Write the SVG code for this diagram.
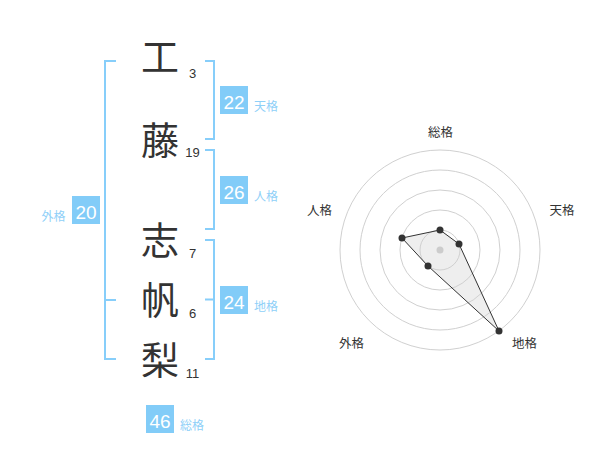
<svg xmlns="http://www.w3.org/2000/svg" width="600" height="470" viewBox="0 0 600 470">
<style>
.kanji{font-family:"Noto Sans CJK JP","Noto Sans CJK SC",sans-serif;font-size:38px;fill:#333;text-anchor:middle}
.num{font-family:"Liberation Sans",Arial,sans-serif;font-size:13px;fill:#333;text-anchor:middle}
.br{fill:none;stroke:#87cefa;stroke-width:2}
.box{fill:#82ccf8}
.boxt{font-family:"Liberation Sans",Arial,sans-serif;font-size:19px;fill:#fff;text-anchor:middle}
.lab{font-family:"Noto Sans CJK JP","Noto Sans CJK SC",sans-serif;font-size:12px;fill:#8fd0f8}
.rlab{font-family:"Noto Sans CJK JP","Noto Sans CJK SC",sans-serif;font-size:12.5px;fill:#333;text-anchor:middle}
.ring{fill:none;stroke:#d0d0d0;stroke-width:1}
.pt{fill:#333}
</style>
<g id="name">
<g id="char1"><text class="kanji" x="160" y="71">工</text><text class="num" x="192.5" y="78">3</text></g>
<g id="char2"><text class="kanji" x="160" y="154">藤</text><text class="num" x="192.5" y="157">19</text></g>
<g id="char3"><text class="kanji" x="160" y="254">志</text><text class="num" x="192.5" y="258">7</text></g>
<g id="char4"><text class="kanji" x="160" y="314">帆</text><text class="num" x="192.5" y="318">6</text></g>
<g id="char5"><text class="kanji" x="160" y="374">梨</text><text class="num" x="192.5" y="378">11</text></g>
</g>
<g id="connectors">
<path class="br" d="M116,61 H105 V359 H116 M105,300 H116"/>
<path class="br" d="M205,61 H214 V139 H205"/>
<path class="br" d="M205,150 H214 V229 H205"/>
<path class="br" d="M205,240 H214 V359 H205 M205,299.5 H214"/>
</g>
<g id="tenkaku"><rect class="box" x="220" y="86" width="28" height="28"/><text class="boxt" x="234" y="108.5">22</text><text class="lab" x="254" y="110.5">天格</text></g>
<g id="jinkaku"><rect class="box" x="220" y="176" width="28" height="28"/><text class="boxt" x="234" y="198.5">26</text><text class="lab" x="254" y="200.5">人格</text></g>
<g id="chikaku"><rect class="box" x="220" y="286" width="28" height="28"/><text class="boxt" x="234" y="308.5">24</text><text class="lab" x="254" y="310.5">地格</text></g>
<g id="gaikaku"><rect class="box" x="72" y="196" width="28" height="28"/><text class="boxt" x="86" y="218.5">20</text><text class="lab" x="41.5" y="220.5">外格</text></g>
<g id="soukaku"><rect class="box" x="146" y="405" width="28" height="28"/><text class="boxt" x="160" y="427.5">46</text><text class="lab" x="180" y="430">総格</text></g>
<g id="radar">
<polygon points="440,230 459,244 499,331 428,266 402,238" fill="#eee" stroke="none"/>
<circle class="ring" cx="440" cy="250" r="20"/>
<circle class="ring" cx="440" cy="250" r="40"/>
<circle class="ring" cx="440" cy="250" r="60"/>
<circle class="ring" cx="440" cy="250" r="80"/>
<circle class="ring" cx="440" cy="250" r="100"/>
<circle cx="440" cy="250" r="3.5" fill="#ccc"/>
<polygon points="440,230 459,244 499,331 428,266 402,238" fill="none" stroke="#333" stroke-width="1"/>
<circle class="pt" cx="440" cy="230" r="3.5"/>
<circle class="pt" cx="459" cy="244" r="3.5"/>
<circle class="pt" cx="499" cy="331" r="3.5"/>
<circle class="pt" cx="428" cy="266" r="3.5"/>
<circle class="pt" cx="402" cy="238" r="3.5"/>
<text class="rlab" x="440.5" y="136.5">総格</text>
<text class="rlab" x="562" y="214.5">天格</text>
<text class="rlab" x="319.5" y="214.5">人格</text>
<text class="rlab" x="351.5" y="348">外格</text>
<text class="rlab" x="524.5" y="348">地格</text>
</g>
</svg>
